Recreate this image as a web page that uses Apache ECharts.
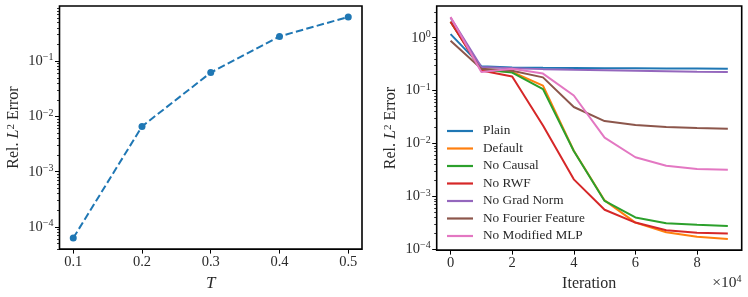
<!DOCTYPE html>
<html><head><meta charset="utf-8">
<script src="https://cdn.jsdelivr.net/npm/echarts@6/dist/echarts.min.js"></script>
<style>html,body{margin:0;padding:0;background:#fff}#c{width:748px;height:297px}</style>
</head><body><div id="c"></div>
<script>
// ---- Left panel data ----
const tValues = [0.1, 0.2, 0.3, 0.4, 0.5];
const tErrors = [6.3e-5, 6.6e-3, 0.062, 0.28, 0.63];
const tTicks = [0.1, 0.2, 0.3, 0.4, 0.5];

// ---- Right panel data ----
const iterations = [0, 10000, 20000, 30000, 40000, 50000, 60000, 70000, 80000, 90000];
const iterTicks = [0, 20000, 40000, 60000, 80000];
const seriesNames = ['Plain', 'Default', 'No Causal', 'No RWF', 'No Grad Norm', 'No Fourier Feature', 'No Modified MLP'];
const plain      = [1.17, 0.29, 0.274, 0.27, 0.268, 0.266, 0.264, 0.262, 0.261, 0.26];
const defaultRun = [2.0, 0.25, 0.225, 0.124, 0.0073, 0.00084, 0.00032, 0.00021, 0.000173, 0.000156];
const noCausal   = [2.0, 0.25, 0.22, 0.107, 0.0072, 0.00082, 0.00040, 0.00031, 0.00029, 0.000275];
const noRWF      = [2.0, 0.24, 0.185, 0.022, 0.0021, 0.00056, 0.00032, 0.00023, 0.000205, 0.0002];
const noGradNorm = [2.4, 0.28, 0.265, 0.255, 0.248, 0.243, 0.238, 0.233, 0.228, 0.224];
const noFourier  = [0.88, 0.26, 0.237, 0.178, 0.049, 0.0266, 0.0224, 0.0205, 0.0196, 0.019];
const noModMLP   = [2.47, 0.224, 0.26, 0.21, 0.081, 0.0129, 0.0055, 0.0038, 0.0033, 0.0032];
const rightSeries = [plain, defaultRun, noCausal, noRWF, noGradNorm, noFourier, noModMLP];
const colors = ['#1f77b4', '#ff7f0e', '#2ca02c', '#d62728', '#9467bd', '#8c564b', '#e377c2'];

// axis limits (log10 space)
const leftLog = [-4.4, -0.003];
const rightLog = [-4.015, 0.6];

const FONT = 'Liberation Serif';
const TXT = '#2a2a2a';
const G0 = { left: 59.5, top: 6, width: 302.5, height: 245 };
const G1 = { left: 436.7, top: 6, width: 305, height: 244.5 };

function majors(r) { const a = []; for (let n = Math.ceil(r[0]); n <= r[1]; n++) a.push(n); return a; }
function minors(r) {
  const a = [];
  for (let n = Math.floor(r[0]) - 1; n <= Math.ceil(r[1]); n++)
    for (let k = 2; k <= 9; k++) { const v = n + Math.log10(k); if (v >= r[0] && v <= r[1]) a.push(v); }
  return a;
}
const supRich = {
  b: { fontSize: 14.5, fontFamily: FONT, color: TXT, lineHeight: 17 },
  s: { fontSize: 10, fontFamily: FONT, color: TXT, verticalAlign: 'top', lineHeight: 10 }
};
function powLabel(v) {
  const n = Math.round(v);
  return '{b|10}{s|' + (n < 0 ? '\u2212' : '') + Math.abs(n) + '}';
}
const nameRich = {
  i: { fontStyle: 'italic', fontSize: 16, fontFamily: FONT, color: TXT },
  s: { fontSize: 11, fontFamily: FONT, color: TXT, verticalAlign: 'top' }
};

function yAxesFor(gridIndex, r, g) {
  return [
    { type: 'log', gridIndex, min: Math.pow(10, r[0]), max: Math.pow(10, r[1]), show: false },
    { type: 'value', gridIndex, min: r[0], max: r[1], position: 'left',
      axisLine: { show: false }, splitLine: { show: false },
      axisTick: { show: true, inside: false, length: 4.5, lineStyle: { color: '#000', width: 1 }, customValues: majors(r) },
      axisLabel: { show: true, margin: 6, customValues: majors(r), formatter: powLabel, rich: supRich },
      name: 'Rel. {i|L}{s|2} Error', nameLocation: 'middle', nameGap: 38, nameRotate: 90,
      nameTextStyle: { fontSize: 16, fontFamily: FONT, color: TXT, rich: nameRich } },
    // minor ticks: placed on the right slot, shifted onto the left border, ticks pointing outward (left)
    { type: 'value', gridIndex, min: r[0], max: r[1], position: 'right', offset: -g.width,
      axisLine: { show: false }, splitLine: { show: false }, axisLabel: { show: false },
      axisTick: { show: true, inside: true, length: 2.5, lineStyle: { color: '#000', width: 0.8 }, customValues: minors(r) } }
  ];
}

const chart = echarts.init(document.getElementById('c'), null, { renderer: 'canvas' });
const option = {
  animation: false,
  backgroundColor: '#fff',
  grid: [
    Object.assign({ show: true, borderColor: '#000', borderWidth: 1.6, containLabel: false }, G0),
    Object.assign({ show: true, borderColor: '#000', borderWidth: 1.6, containLabel: false }, G1)
  ],
  xAxis: [
    { type: 'value', gridIndex: 0, min: 0.08, max: 0.52, position: 'bottom',
      axisLine: { show: false, onZero: false }, splitLine: { show: false },
      axisTick: { show: true, length: 4.5, lineStyle: { color: '#000' }, customValues: tTicks },
      axisLabel: { margin: 6, fontSize: 14.5, fontFamily: FONT, color: TXT, customValues: tTicks, formatter: v => v.toFixed(1) },
      name: 'T', nameLocation: 'middle', nameGap: 22,
      nameTextStyle: { fontSize: 17, fontStyle: 'italic', fontFamily: FONT, color: TXT } },
    { type: 'value', gridIndex: 1, min: -4500, max: 94500, position: 'bottom',
      axisLine: { show: false, onZero: false }, splitLine: { show: false },
      axisTick: { show: true, length: 4.5, lineStyle: { color: '#000' }, customValues: iterTicks },
      axisLabel: { margin: 6, fontSize: 14.5, fontFamily: FONT, color: TXT, customValues: iterTicks, formatter: v => String(Math.round(v / 1e4)) },
      name: 'Iteration', nameLocation: 'middle', nameGap: 23,
      nameTextStyle: { fontSize: 16, fontFamily: FONT, color: TXT } }
  ],
  yAxis: [].concat(yAxesFor(0, leftLog, G0), yAxesFor(1, rightLog, G1)),
  legend: {
    left: 447, top: 124, orient: 'vertical', icon: 'rect', itemWidth: 26, itemHeight: 2.2, itemGap: 3.5, padding: 0,
    textStyle: { fontSize: 13.3, fontFamily: FONT, color: TXT, padding: [0, 0, 0, 5], lineHeight: 14 },
    data: seriesNames
  },
  graphic: [
    { type: 'text', right: 6.5, top: 274,
      style: { text: '{a|\u00d710}{s|4}', rich: {
        a: { fontSize: 15.5, fontFamily: FONT, fill: TXT, lineHeight: 17 },
        s: { fontSize: 10, fontFamily: FONT, fill: TXT, verticalAlign: 'top', lineHeight: 10 } } } }
  ],
  series: [
    { type: 'line', xAxisIndex: 0, yAxisIndex: 0, data: tValues.map((t, i) => [t, tErrors[i]]),
      symbol: 'circle', symbolSize: 7, color: '#1f77b4',
      itemStyle: { color: '#1f77b4' }, lineStyle: { color: '#1f77b4', width: 2, type: [7.5, 3.3] } }
  ].concat(rightSeries.map((vals, si) => ({
    type: 'line', name: seriesNames[si], xAxisIndex: 1, yAxisIndex: 3,
    data: iterations.map((x, i) => [x, vals[i]]), showSymbol: false, symbol: 'none',
    color: colors[si], itemStyle: { color: colors[si] }, lineStyle: { color: colors[si], width: 2 }
  })))
};
chart.setOption(option);
</script>
</body></html>
